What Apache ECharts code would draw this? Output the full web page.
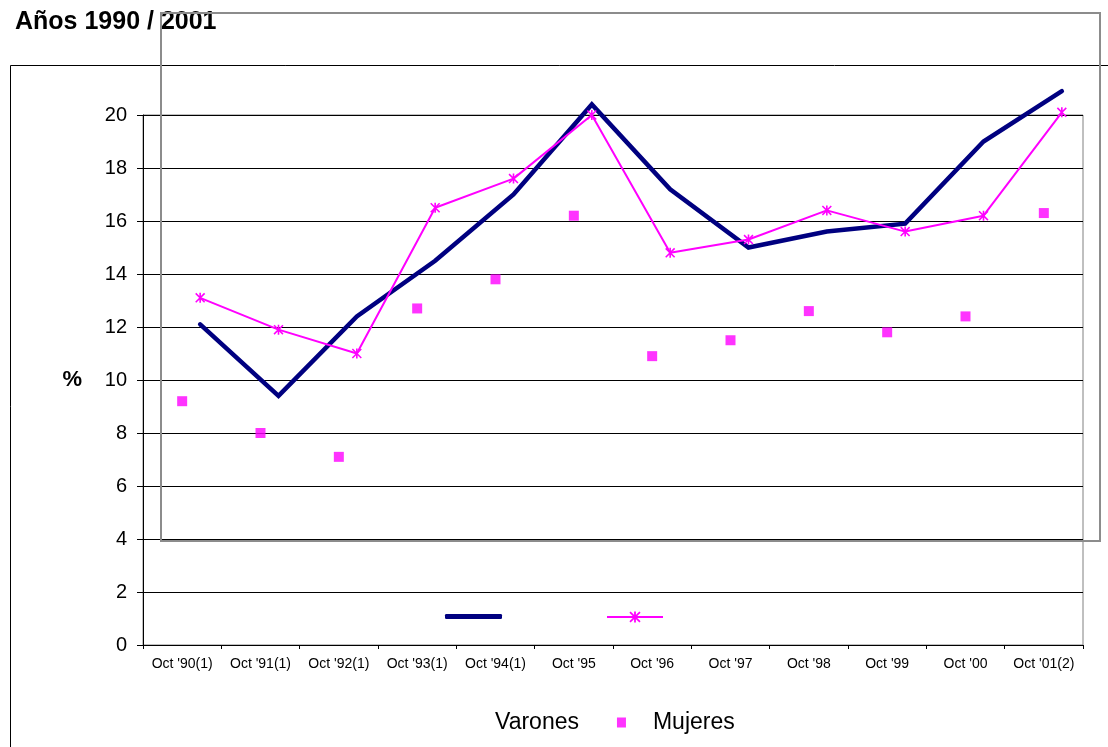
<!DOCTYPE html>
<html>
<head>
<meta charset="utf-8">
<script src="https://cdn.jsdelivr.net/npm/echarts@6/dist/echarts.min.js"></script>
<style>
  html, body { margin: 0; padding: 0; background: #fff; }
  #chart { width: 1108px; height: 747px; }
</style>
</head>
<body>
<div id="chart"></div>
<script>
const categories = ["Oct '90(1)", "Oct '91(1)", "Oct '92(1)", "Oct '93(1)", "Oct '94(1)", "Oct '95", "Oct '96", "Oct '97", "Oct '98", "Oct '99", "Oct '00", "Oct '01(2)"];
const varones = [12.1, 9.4, 12.4, 14.5, 17.0, 20.4, 17.2, 15.0, 15.6, 15.9, 19.0, 20.9];
const mujeresLinea = [13.1, 11.9, 11.0, 16.5, 17.6, 20.0, 14.8, 15.3, 16.4, 15.6, 16.2, 20.1];
const mujeres = [9.2, 8.0, 7.1, 12.7, 13.8, 16.2, 10.9, 11.5, 12.6, 11.8, 12.4, 16.3];
const yMin = 0, yMax = 20, yStep = 2;

const FONT = "'Liberation Sans', Arial, sans-serif";
const asterisk = 'path://M4.2 0 L5.8 0 L5.8 10 L4.2 10 Z M0 1.1 L1.1 0 L10 8.9 L8.9 10 Z M8.9 0 L10 1.1 L1.1 10 L0 8.9 Z';

const chart = echarts.init(document.getElementById('chart'), null, { renderer: 'canvas' });
chart.setOption({
  animation: false,
  backgroundColor: '#fff',
  textStyle: { fontFamily: FONT },
  title: {
    text: 'Años 1990 / 2001',
    left: 10, top: 5,
    textStyle: { fontFamily: FONT, fontWeight: 'bold', fontSize: 25, color: '#000' }
  },
  grid: [
    { left: 143, right: 25, top: 115, bottom: 102, outerBoundsMode: 'none', containLabel: false,
      show: true, borderColor: '#808080', borderWidth: 1, backgroundColor: 'transparent' },
    { left: 161, right: 7, top: 115, bottom: 102, outerBoundsMode: 'none', containLabel: false }
  ],
  xAxis: [
    { type: 'category', gridIndex: 0, data: categories, boundaryGap: true,
      axisLine: { lineStyle: { color: '#000', width: 1 } },
      axisTick: { show: true, length: 4, alignWithLabel: false, lineStyle: { color: '#000' } },
      axisLabel: { interval: 0, fontSize: 14, color: '#000', margin: 12, fontFamily: FONT },
      splitLine: { show: false } },
    { type: 'category', gridIndex: 1, data: categories, boundaryGap: true, show: false }
  ],
  yAxis: [
    { type: 'value', gridIndex: 0, min: yMin, max: yMax, interval: yStep,
      name: '%', nameLocation: 'middle', nameRotate: 0, nameGap: 61,
      nameTextStyle: { fontFamily: FONT, fontWeight: 'bold', fontSize: 22, color: '#000', padding: [0, 0, 8, 0] },
      axisLine: { show: true, lineStyle: { color: '#000', width: 1 } },
      axisTick: { show: true, length: 6, lineStyle: { color: '#000' } },
      axisLabel: { fontSize: 20, color: '#000', margin: 16, fontFamily: FONT },
      splitLine: { show: true, lineStyle: { color: '#000', width: 1 } } },
    { type: 'value', gridIndex: 1, min: yMin, max: yMax, interval: yStep, show: false,
      splitLine: { show: false } }
  ],
  legend: [
    { left: 440, top: 609, itemWidth: 57, itemHeight: 5, selectedMode: false,
      data: [{ name: 'Varones', icon: 'roundRect', itemStyle: { color: '#000080' } }],
      formatter: () => '', textStyle: { padding: 0 } },
    { left: 601, top: 605, itemWidth: 56, itemHeight: 14, selectedMode: false,
      data: ['Mujeres (línea)'], formatter: () => '', textStyle: { padding: 0 } },
    { left: 454, top: 706, itemWidth: 9, itemHeight: 10, itemGap: 38, selectedMode: false,
      data: [
        { name: 'Varones', icon: 'rect', itemStyle: { opacity: 0, color: 'rgba(0,0,0,0)' }, lineStyle: { opacity: 0 } },
        { name: 'Mujeres', icon: 'rect' }
      ],
      textStyle: { fontFamily: FONT, fontSize: 23, color: '#000', padding: [0, 0, 0, 22] } }
  ],
  graphic: [
    { type: 'rect', silent: true, z: -10,
      shape: { x: 10.5, y: 65.5, width: 1300, height: 900 },
      style: { fill: 'none', stroke: '#000', lineWidth: 1 } },
    { type: 'rect', silent: true, z: 100,
      shape: { x: 161, y: 13, width: 939, height: 528 },
      style: { fill: 'none', stroke: '#8c8c8c', lineWidth: 2 } }
  ],
  series: [
    { name: 'Mujeres', type: 'scatter', xAxisIndex: 0, yAxisIndex: 0,
      data: mujeres, symbol: 'rect', symbolSize: 10,
      itemStyle: { color: '#ff00ff' } },
    { name: 'Varones', type: 'line', xAxisIndex: 1, yAxisIndex: 1,
      data: varones, symbol: 'none', showSymbol: false, clip: false,
      lineStyle: { color: '#000080', width: 4.5, cap: 'round', join: 'miter' },
      itemStyle: { color: '#000080' } },
    { name: 'Mujeres (línea)', type: 'line', xAxisIndex: 1, yAxisIndex: 1,
      data: mujeresLinea, symbol: asterisk, symbolSize: 10, showSymbol: true, clip: false,
      lineStyle: { color: '#ff00ff', width: 2 },
      itemStyle: { color: '#ff00ff' } }
  ]
});
</script>
</body>
</html>
